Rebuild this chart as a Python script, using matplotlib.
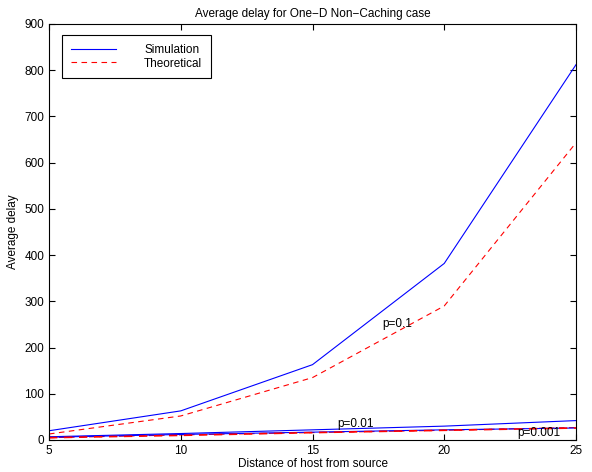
import matplotlib
matplotlib.use("Agg")
import matplotlib.pyplot as plt

plt.rcParams["font.family"] = ["Liberation Sans", "DejaVu Sans"]
plt.rcParams["font.size"] = 8

dist = [5, 10, 15, 20, 25]
sim_p1 = [20, 63, 163, 382, 812]
theo_p1 = [13, 52, 135, 290, 643]
sim_p01 = [7, 14, 22, 30, 42]
theo_p01 = [5, 11, 16, 21, 27]
sim_p001 = [6, 12, 17, 22, 26]
theo_p001 = [5, 10, 16, 21, 26]

fig = plt.figure(figsize=(5.92, 4.72), dpi=100)
ax = fig.add_axes([49 / 592, 32 / 472, 527 / 592, 416 / 472])

dash = (0, (5, 4))
ax.plot(dist, sim_p1, color="blue", lw=0.8, label="Simulation")
ax.plot(dist, theo_p1, color="red", lw=0.8, ls=dash, label="Theoretical")
ax.plot(dist, sim_p01, color="blue", lw=0.8)
ax.plot(dist, theo_p01, color="red", lw=0.8, ls=dash)
ax.plot(dist, sim_p001, color="blue", lw=0.8)
ax.plot(dist, theo_p001, color="red", lw=1.2, ls=dash)

ax.text(18.2, 251, "p=0.1", ha="center", va="center", fontsize=8.5)
ax.text(16.65, 35, "p=0.01", ha="center", va="center", fontsize=8.5)
ax.text(23.6, 15, "p=0.001", ha="center", va="center", fontsize=8.5)

ax.set_xlim(5, 25)
ax.set_ylim(0, 900)
ax.set_xticks(range(5, 26, 5))
ax.set_yticks(range(0, 901, 100))
ax.tick_params(direction="in", top=True, right=True, length=4, width=0.8,
               labelsize=8.5)
for s in ax.spines.values():
    s.set_linewidth(0.8)

ax.set_title("Average delay for One\u2212D Non\u2212Caching case", fontsize=8.5, pad=5)
ax.set_xlabel("Distance of host from source", labelpad=1, fontsize=8.5)
ax.set_ylabel("Average delay", labelpad=4, fontsize=8.5)

leg = ax.legend(loc="upper left", bbox_to_anchor=(13 / 527, 1 - 11 / 416),
                borderaxespad=0, handlelength=3.8, fontsize=8.5,
                fancybox=False, framealpha=1, edgecolor="black",
                borderpad=0.75, labelspacing=0.15, handletextpad=2.4)
leg.get_frame().set_linewidth(0.8)

fig.savefig("out.png", dpi=100)
